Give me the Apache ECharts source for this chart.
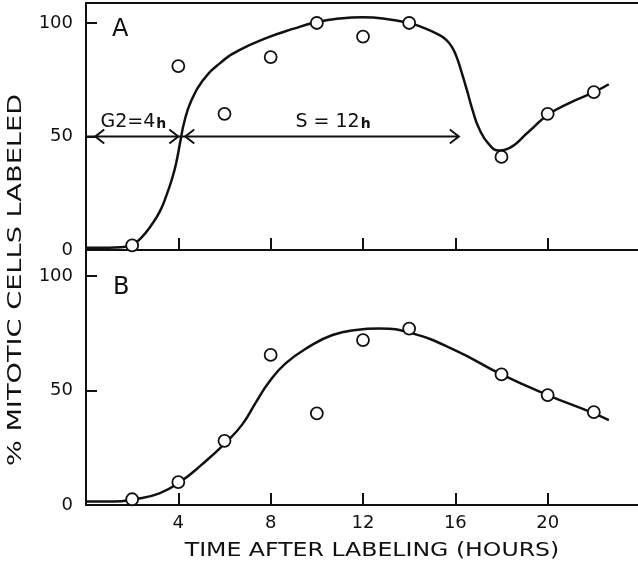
<!DOCTYPE html>
<html>
<head>
<meta charset="UTF-8">
<title>% mitotic cells labeled</title>
<script src="https://cdn.jsdelivr.net/npm/echarts@6/dist/echarts.min.js"></script>
</head>
<body style="margin:0;background:#fff">
<div id="main" style="width:638px;height:566px;"></div>
<script>
// measured points (hours after labeling, % labeled mitoses)
var hoursA = [2, 4, 6, 8, 10, 12, 14, 18, 20, 22];
var pctA = [2, 81, 60, 85, 100, 94, 100, 41, 60, 69.5];
var hoursB = [2, 4, 6, 8, 10, 12, 14, 18, 20, 22];
var pctB = [2.5, 10, 28, 65.5, 40, 72, 77, 57, 48, 40.5];

// hand drawn fitted curves
var curveAx = [0, 1, 1.5, 2, 2.4, 2.8, 3.2, 3.5, 3.7, 3.9, 4.09, 4.26, 4.55, 5.05, 5.77, 6.64, 7.8, 9, 10, 11, 12, 13, 14, 14.5, 15.3, 15.6, 15.85, 16.05, 16.25, 16.5, 16.75, 17.03, 17.46, 17.9, 18.2, 19.2, 20, 21, 22, 22.65];
var curveAy = [1, 1, 1.2, 2.3, 5.5, 10.5, 17, 24.5, 30.5, 38, 48, 56.5, 65.5, 74.5, 82, 88, 93.3, 97.5, 100.4, 102, 102.5, 101.8, 100, 98.4, 94.8, 92.6, 89.5, 85.2, 79, 70.5, 61.5, 53.5, 46.5, 43.8, 44.3, 52.3, 59.5, 65, 69.5, 73];
var curveBx = [0, 1.2, 2.07, 3.18, 4.09, 5, 6.09, 6.78, 7.36, 7.94, 8.66, 9.67, 10.68, 11.69, 12.7, 14.1, 16, 18, 20, 22, 22.65];
var curveBy = [1.5, 1.5, 2.5, 5.1, 10.2, 17.5, 27.6, 35.3, 44.8, 53.8, 61.9, 69.1, 74.2, 76.4, 77, 75, 67.5, 57, 48, 40, 37];

// phase arrows in panel A: line start, left tip, right tip, level, label x
var phaseLabels = ['G2=4', 'S = 12'];
var phaseLineFrom = [0, 4];
var phaseTipFrom = [0.4, 4.3];
var phaseTipTo = [4, 16.15];
var phaseLevel = [50, 50];
var phaseLabelX = [2.05, 10.7];

var xTicks = [4, 8, 12, 16, 20];
var yTicks = [0, 50, 100];

var FONT = 'DejaVu Sans';
var INK = '#111';

function zip(xs, ys) {
    var out = [];
    for (var i = 0; i < xs.length; i++) out.push([xs[i], ys[i]]);
    return out;
}

var phaseRows = [];
for (var i = 0; i < phaseLabels.length; i++) {
    phaseRows.push([phaseLineFrom[i], phaseTipFrom[i], phaseTipTo[i], phaseLevel[i], phaseLabelX[i]]);
}

function renderPhase(params, api) {
    var y = api.value(3);
    var p0 = api.coord([api.value(0), y]);
    var t1 = api.coord([api.value(1), y]);
    var t2 = api.coord([api.value(2), y]);
    var lx = api.coord([api.value(4), y])[0];
    var yy = p0[1];
    var w = 9, h = 7;
    var st = { stroke: INK, lineWidth: 2, fill: null };
    return {
        type: 'group',
        children: [
            { type: 'line', shape: { x1: p0[0], y1: yy, x2: t2[0], y2: yy }, style: st },
            { type: 'polyline', shape: { points: [[t1[0] + w, yy - h], [t1[0], yy], [t1[0] + w, yy + h]] }, style: st },
            { type: 'polyline', shape: { points: [[t2[0] - w, yy - h], [t2[0], yy], [t2[0] - w, yy + h]] }, style: st },
            {
                type: 'text',
                x: lx, y: yy - 14,
                style: {
                    text: '{a|' + phaseLabels[params.dataIndex] + '}{b|h}',
                    align: 'center', verticalAlign: 'middle',
                    rich: {
                        a: { fontFamily: FONT, fontSize: 19, fill: INK },
                        b: { fontFamily: FONT, fontSize: 14, fontWeight: 'bold', fill: INK, padding: [4, 0, 0, 1] }
                    }
                }
            }
        ]
    };
}

function xAxisCfg(grid, showLabels) {
    return {
        type: 'value', gridIndex: grid, min: 0, max: 24, interval: 4,
        axisLine: { show: true, onZero: false, lineStyle: { color: INK, width: 2 } },
        axisTick: { show: true, inside: true, length: 12, lineStyle: { color: INK, width: 2 } },
        axisLabel: {
            show: showLabels, color: INK, fontFamily: FONT, fontSize: 18, margin: 9,
            formatter: function (v) { return xTicks.indexOf(v) >= 0 ? String(v) : ''; }
        },
        splitLine: { show: false }
    };
}

function yAxisCfg(grid, top) {
    return {
        type: 'value', gridIndex: grid, min: 0, max: top, interval: 50,
        axisLine: { show: true, onZero: false, lineStyle: { color: INK, width: 2 } },
        axisTick: { show: true, inside: true, length: 11, lineStyle: { color: INK, width: 2 } },
        axisLabel: {
            color: INK, fontFamily: FONT, fontSize: 18, margin: 13,
            formatter: function (v) { return yTicks.indexOf(v) >= 0 ? String(v) : ''; }
        },
        splitLine: { show: false }
    };
}

var chart = echarts.init(document.getElementById('main'), null, { renderer: 'canvas' });

var topBorder = xAxisCfg(0, false);
topBorder.position = 'top';
topBorder.axisTick = { show: false };

chart.setOption({
    animation: false,
    backgroundColor: '#fff',
    grid: [
        { left: 86, top: 3, width: 554, height: 247, outerBoundsMode: 'none' },
        { left: 86, top: 250, width: 554, height: 255, outerBoundsMode: 'none' }
    ],
    xAxis: [xAxisCfg(0, false), topBorder, xAxisCfg(1, true)],
    yAxis: [yAxisCfg(0, 108.8), yAxisCfg(1, 111.3)],
    graphic: [
        { type: 'text', left: 112, top: 18, style: { text: 'A', fontFamily: FONT, fontSize: 24, fill: INK } },
        { type: 'text', left: 113, top: 276, style: { text: 'B', fontFamily: FONT, fontSize: 24, fill: INK } },
        {
            type: 'text', x: 372, y: 551, scaleX: 1.18,
            style: { text: 'TIME AFTER LABELING (HOURS)', fontFamily: FONT, fontSize: 20, fill: INK, align: 'center', verticalAlign: 'middle' }
        },
        {
            type: 'text', x: 16, y: 280, rotation: Math.PI / 2, scaleX: 1.36,
            style: { text: '% MITOTIC CELLS LABELED', fontFamily: FONT, fontSize: 20, fill: INK, align: 'center', verticalAlign: 'middle' }
        }
    ],
    series: [
        {
            type: 'line', xAxisIndex: 0, yAxisIndex: 0, data: zip(curveAx, curveAy),
            smooth: 0.5, showSymbol: false, silent: true,
            lineStyle: { color: INK, width: 2.5 }, z: 2
        },
        {
            type: 'scatter', xAxisIndex: 0, yAxisIndex: 0, data: zip(hoursA, pctA),
            symbol: 'circle', symbolSize: 12,
            itemStyle: { color: '#fff', borderColor: INK, borderWidth: 1.8, opacity: 1 }, z: 3
        },
        {
            type: 'custom', xAxisIndex: 0, yAxisIndex: 0, data: phaseRows,
            encode: { x: [0, 1, 2, 4], y: 3 },
            renderItem: renderPhase, silent: true, z: 1
        },
        {
            type: 'line', xAxisIndex: 2, yAxisIndex: 1, data: zip(curveBx, curveBy),
            smooth: 0.5, showSymbol: false, silent: true,
            lineStyle: { color: INK, width: 2.5 }, z: 2
        },
        {
            type: 'scatter', xAxisIndex: 2, yAxisIndex: 1, data: zip(hoursB, pctB),
            symbol: 'circle', symbolSize: 12,
            itemStyle: { color: '#fff', borderColor: INK, borderWidth: 1.8, opacity: 1 }, z: 3
        }
    ]
});
</script>
</body>
</html>
